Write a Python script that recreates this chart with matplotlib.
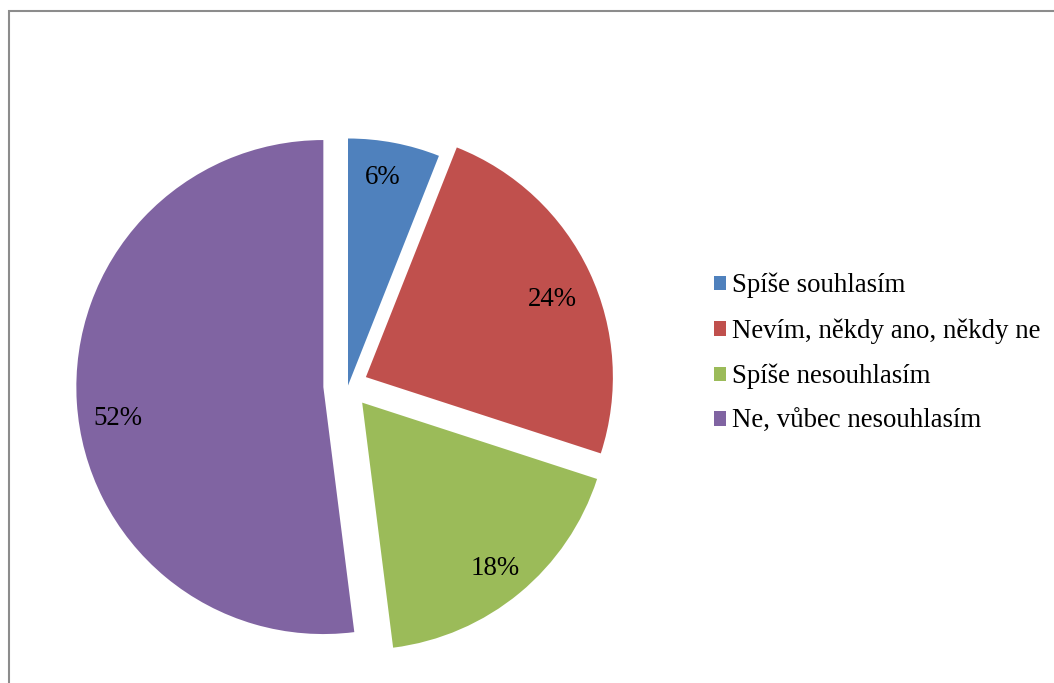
import matplotlib
matplotlib.use('Agg')
import matplotlib.pyplot as plt
from matplotlib.patches import Rectangle

# answers to the question, share in percent
answers = ['Spíše souhlasím', 'Nevím, někdy ano, někdy ne',
           'Spíše nesouhlasím', 'Ne, vůbec nesouhlasím']
shares = [6, 24, 18, 52]
colors = ['#4F81BD', '#C0504D', '#9BBB59', '#8064A2']
explode = [0.0, 0.08, 0.09, 0.1]

plt.rcParams['font.family'] = ['Liberation Serif', 'DejaVu Serif']

W, H = 1054, 683
fig = plt.figure(figsize=(W / 100, H / 100), dpi=100)
ax = fig.add_axes([0, 0, 1, 1])

wedges, texts, pcts = ax.pie(shares, colors=colors, explode=explode,
                             startangle=90, counterclock=False,
                             autopct='%1.0f%%', pctdistance=0.84,
                             textprops={'fontsize': 19.4})

# one data unit = pie radius in pixels, centre placed by hand
r_px = 247
cx, cy = 348, H - 385.5
ax.set_aspect('auto')
ax.set_xlim(-cx / r_px, (W - cx) / r_px)
ax.set_ylim(-cy / r_px, (H - cy) / r_px)
ax.axis('off')

# small nudges of the percent labels (pixels)
nudges = [(-4, 4), (-1, -11), (1, -6), (2, -18)]
for t, (dx, dy) in zip(pcts, nudges):
    x, y = t.get_position()
    t.set_position((x + dx / r_px, y + dy / r_px))

ax.legend(wedges, answers, loc='upper left', bbox_to_anchor=(714 / W, 1 - 273 / H),
          bbox_transform=fig.transFigure, frameon=False, fontsize=19.4,
          handlelength=0.45, handleheight=0.45, handletextpad=0.2,
          labelspacing=0.74, borderaxespad=0, borderpad=0)

# grey frame round the chart area
fig.patches.append(Rectangle((8.5 / W, -0.1), 1.2, 1 + 0.1 - 11.5 / H,
                             transform=fig.transFigure, fill=False,
                             edgecolor='#8c8c8c', linewidth=1.5))

fig.savefig('out.png', dpi=100)
